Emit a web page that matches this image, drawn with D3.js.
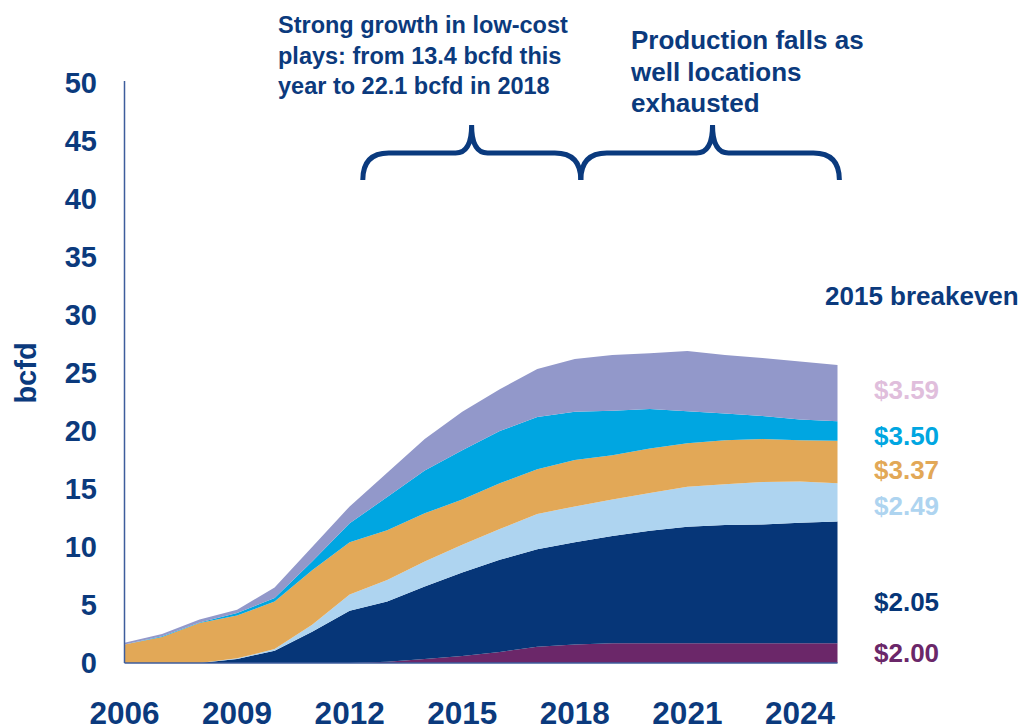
<!DOCTYPE html>
<html>
<head>
<meta charset="utf-8">
<script src="https://cdn.jsdelivr.net/npm/d3@7/dist/d3.min.js"></script>
<style>
  html, body { margin: 0; padding: 0; background: #fff; overflow: hidden; }
  svg { display: block; font-family: "Liberation Sans", Arial, sans-serif; font-weight: bold; }
</style>
</head>
<body>
<svg id="chart" width="1023" height="725"></svg>
<script>
// Gas production by breakeven price tier, bcfd
const years = d3.range(2006, 2026);
const tierKeys = ["t200", "t205", "t249", "t337", "t350", "t359"];
const tierLabels = ["$2.00", "$2.05", "$2.49", "$3.37", "$3.50", "$3.59"];
const tierColors = ["#6b2769", "#063678", "#aed4f0", "#e2a857", "#00a6e1", "#9298ca"];
const labelColors = ["#6b2769", "#063678", "#aed4f0", "#e2a857", "#00a6e1", "#e0bedc"];

const t200 = [0, 0, 0, 0, 0, 0, 0, 0.1, 0.35, 0.6, 0.95, 1.4, 1.6, 1.7, 1.7, 1.7, 1.7, 1.7, 1.7, 1.7];
const t205 = [0, 0, 0, 0.35, 1.05, 2.7, 4.5, 5.2, 6.25, 7.2, 7.95, 8.4, 8.8, 9.25, 9.7, 10.05, 10.2, 10.25, 10.4, 10.5];
const t249 = [0, 0, 0, 0.05, 0.15, 0.6, 1.4, 1.85, 2.15, 2.4, 2.65, 3.05, 3.1, 3.15, 3.25, 3.45, 3.5, 3.65, 3.55, 3.3];
const t337 = [1.6, 2.25, 3.45, 3.7, 4.1, 4.7, 4.5, 4.3, 4.15, 3.9, 3.95, 3.85, 4.0, 3.8, 3.85, 3.75, 3.8, 3.7, 3.55, 3.65];
const t350 = [0, 0.05, 0.05, 0.2, 0.3, 0.75, 1.65, 2.85, 3.7, 4.25, 4.5, 4.5, 4.15, 3.85, 3.4, 2.75, 2.3, 2.0, 1.8, 1.7];
const t359 = [0.15, 0.2, 0.25, 0.3, 0.9, 1.25, 1.45, 2.1, 2.7, 3.3, 3.6, 4.15, 4.55, 4.8, 4.8, 5.2, 5.05, 5.0, 5.0, 4.85];

const yTicks = [0, 5, 10, 15, 20, 25, 30, 35, 40, 45, 50];
const xTicks = [2006, 2009, 2012, 2015, 2018, 2021, 2024];

const seriesByKey = { t200, t205, t249, t337, t350, t359 };
const rows = years.map((yr, i) => {
  const r = { year: yr };
  tierKeys.forEach(k => { r[k] = seriesByKey[k][i]; });
  return r;
});

const navy = "#0b3a7d";
const svg = d3.select("#chart");

const x = d3.scaleLinear().domain([2006, 2025]).range([124.5, 837.5]);
const y = d3.scaleLinear().domain([0, 50]).range([663, 83]);

const stacked = d3.stack().keys(tierKeys)(rows);

const area = d3.area()
  .x(d => x(d.data.year))
  .y0(d => y(d[0]))
  .y1(d => y(d[1]));

svg.append("g")
  .selectAll("path")
  .data(stacked)
  .join("path")
  .attr("d", area)
  .attr("fill", (d, i) => tierColors[i]);

// Axes: plain lines, no tick marks
const axisColor = "#3d5d9c";
svg.append("line")
  .attr("x1", x(2006)).attr("x2", x(2006))
  .attr("y1", y(50) - 2).attr("y2", y(0))
  .attr("stroke", axisColor).attr("stroke-width", 1.5);
svg.append("line")
  .attr("x1", x(2006)).attr("x2", x(2025))
  .attr("y1", y(0)).attr("y2", y(0))
  .attr("stroke", axisColor).attr("stroke-width", 1.5);

// Y tick labels
svg.append("g")
  .selectAll("text")
  .data(yTicks)
  .join("text")
  .attr("x", 97)
  .attr("y", d => y(d))
  .attr("dy", "0.36em")
  .attr("text-anchor", "end")
  .attr("fill", navy)
  .attr("font-size", 29)
  .text(d => d);

// X tick labels
svg.append("g")
  .selectAll("text")
  .data(xTicks)
  .join("text")
  .attr("x", d => x(d))
  .attr("y", 724)
  .attr("text-anchor", "middle")
  .attr("fill", navy)
  .attr("font-size", 31.5)
  .text(d => d);

// Y axis title
svg.append("text")
  .attr("transform", "translate(36,373) rotate(-90)")
  .attr("text-anchor", "middle")
  .attr("fill", navy)
  .attr("font-size", 29)
  .text("bcfd");

// Breakeven price labels beside the end of each band
const labelY = [653, 602, 505.5, 470, 436, 390];
svg.append("text")
  .attr("x", 825).attr("y", 305)
  .attr("fill", navy).attr("font-size", 26)
  .text("2015 breakeven");
svg.append("g")
  .selectAll("text")
  .data(tierLabels)
  .join("text")
  .attr("x", 874)
  .attr("y", (d, i) => labelY[i])
  .attr("dy", "0.36em")
  .attr("fill", (d, i) => labelColors[i])
  .attr("font-size", 26)
  .text(d => d);

// Annotations
function para(lines, x0, y0, lh, size) {
  const t = svg.append("text").attr("fill", navy).attr("font-size", size);
  lines.forEach((s, i) => {
    t.append("tspan").attr("x", x0).attr("y", y0 + i * lh).text(s);
  });
}
para(["Strong growth in low-cost", "plays: from 13.4 bcfd this", "year to 22.1 bcfd in 2018"], 278, 33, 30.5, 23.5);
para(["Production falls as", "well locations", "exhausted"], 631, 49, 31.5, 26);

// Curly braces spanning the growth and decline periods
function brace(xa, xm, xb) {
  const yb = 180, yh = 153, yt = 125, r = 26;
  const p = d3.path();
  p.moveTo(xa, yb);
  p.quadraticCurveTo(xa, yh, xa + r, yh);
  p.lineTo(xm - 16, yh);
  p.quadraticCurveTo(xm, yh, xm, yt);
  p.quadraticCurveTo(xm, yh, xm + 16, yh);
  p.lineTo(xb - r, yh);
  p.quadraticCurveTo(xb, yh, xb, yb);
  svg.append("path")
    .attr("d", p.toString())
    .attr("fill", "none")
    .attr("stroke", "#0a3a7e")
    .attr("stroke-width", 5);
}
brace(x(2012.35), x(2015.25), x(2018.16));
brace(x(2018.16), x(2021.67), x(2025.05));
</script>
</body>
</html>
